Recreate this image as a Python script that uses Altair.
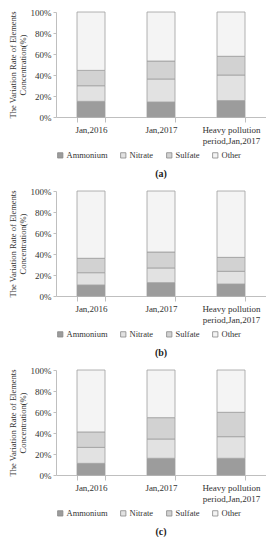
import altair as alt
import pandas as pd

categories = ["Jan,2016", "Jan,2017", "Heavy pollution|period,Jan,2017"]
components = ["Ammonium", "Nitrate", "Sulfate", "Other"]
panel_labels = ["(a)", "(b)", "(c)"]

a_ammonium = [14.9, 14.3, 15.6]
a_nitrate = [14.9, 21.9, 24.4]
a_sulfate = [14.6, 17.1, 17.8]
a_other = [55.6, 46.7, 42.2]

b_ammonium = [10.5, 12.7, 11.4]
b_nitrate = [11.7, 14.0, 12.1]
b_sulfate = [13.7, 15.2, 13.3]
b_other = [64.1, 58.1, 63.2]

c_ammonium = [11.1, 15.9, 15.9]
c_nitrate = [15.2, 18.4, 20.6]
c_sulfate = [14.7, 20.3, 23.2]
c_other = [59.0, 45.4, 40.3]

colors = ["#9c9c9c", "#e2e2e2", "#d2d2d2", "#f4f4f4"]

panel_data = [
    [a_ammonium, a_nitrate, a_sulfate, a_other],
    [b_ammonium, b_nitrate, b_sulfate, b_other],
    [c_ammonium, c_nitrate, c_sulfate, c_other],
]


def make_panel(series, label):
    rows = []
    for k, comp in enumerate(components):
        for i, cat in enumerate(categories):
            rows.append({"category": cat, "component": comp, "order": k, "value": series[k][i]})
    df = pd.DataFrame(rows)
    return alt.Chart(df).mark_bar(stroke="#a0a0a0", strokeWidth=0.8).encode(
        x=alt.X(
            "category:N",
            sort=categories,
            scale=alt.Scale(paddingInner=0.6, paddingOuter=0.3),
            axis=alt.Axis(
                title=None,
                labelAngle=0,
                labelExpr="split(datum.label, '|')",
                tickBand="extent",
                labelFontSize=9,
                labelPadding=3,
                tickSize=5,
            ),
        ),
        y=alt.Y(
            "value:Q",
            stack="zero",
            scale=alt.Scale(domain=[0, 100]),
            axis=alt.Axis(
                values=[0, 20, 40, 60, 80, 100],
                labelExpr="datum.value + '%'",
                title=["The Variation Rate of Elements", "Concentration(%)"],
                titleFontSize=8.5,
                titleFontWeight="normal",
                titlePadding=3,
                titleLineHeight=10,
                grid=False,
                labelFontSize=9,
                labelPadding=2,
                tickSize=3,
            ),
        ),
        color=alt.Color(
            "component:N",
            sort=components,
            scale=alt.Scale(domain=components, range=colors),
            legend=alt.Legend(
                title=None,
                orient="bottom",
                direction="horizontal",
                symbolType="square",
                symbolSize=28,
                symbolStrokeColor="#888888",
                symbolStrokeWidth=0.8,
                labelFontSize=8.5,
                labelOffset=2,
                labelFont="Liberation Serif",
                columnPadding=11,
                offset=6,
            ),
        ),
        order=alt.Order("order:Q"),
    ).properties(
        width=210,
        height=105,
        title=alt.TitleParams(label, orient="bottom", fontSize=10, fontWeight="bold", offset=9, anchor="middle"),
    )


chart = alt.vconcat(
    *[make_panel(s, l) for s, l in zip(panel_data, panel_labels)], spacing=8
).resolve_scale(color="independent").properties(
    padding={"left": 0, "top": 0, "right": 0, "bottom": 0}
).configure(
    font="Liberation Serif"
).configure_axis(
    domainColor="#bfbfbf",
    tickColor="#bfbfbf",
    labelColor="#333333",
    titleColor="#333333",
    labelFont="Liberation Serif",
    titleFont="Liberation Serif",
).configure_legend(
    labelColor="#333333"
).configure_title(
    color="#222222",
    font="Liberation Serif",
).configure_view(
    stroke=None
)

chart.save("out.html", embed_options={"renderer": "svg", "actions": False})
